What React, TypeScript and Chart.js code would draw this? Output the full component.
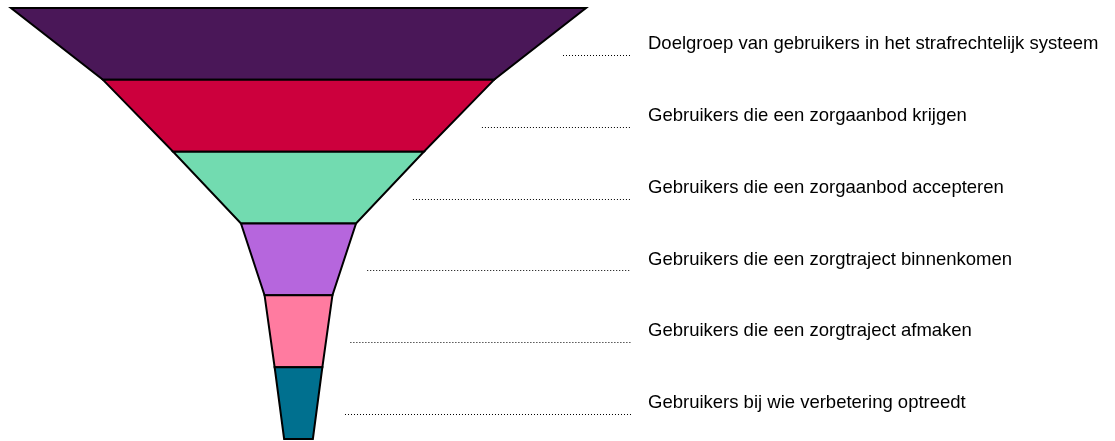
import React, { useEffect, useRef } from "react";
import { Chart, registerables } from "chart.js";

Chart.register(...registerables);

// ---- data ----
const stages: string[] = [
  "Doelgroep van gebruikers in het strafrechtelijk systeem",
  "Gebruikers die een zorgaanbod krijgen",
  "Gebruikers die een zorgaanbod accepteren",
  "Gebruikers die een zorgtraject binnenkomen",
  "Gebruikers die een zorgtraject afmaken",
  "Gebruikers bij wie verbetering optreedt",
];
// relative width at the top edge of each stage (first stage = 100)
const topWidths: number[] = [100, 68, 43.6, 20, 11.8, 8.3];
// relative width at the bottom edge of the last stage
const bottomWidth = 5;
const colors: string[] = ["#4A1758", "#CC003D", "#72DBB0", "#B666DD", "#FF7BA0", "#00708F"];

const funnelPlugin = {
  id: "funnelShapes",
  beforeDatasetDraw(chart: any, args: any) {
    const meta = chart.getDatasetMeta(args.index);
    const xs = chart.scales.x;
    const area = chart.chartArea;
    const ctx: CanvasRenderingContext2D = chart.ctx;
    const center = xs.getPixelForValue(0);
    ctx.save();
    meta.data.forEach((bar: any, i: number) => {
      const { y, height } = bar.getProps(["y", "height"], true);
      const top = y - height / 2;
      const bot = y + height / 2;
      const tw = topWidths[i];
      const bw = i + 1 < topWidths.length ? topWidths[i + 1] : bottomWidth;
      const tl = xs.getPixelForValue(-tw / 2);
      const tr = xs.getPixelForValue(tw / 2);
      const bl = xs.getPixelForValue(-bw / 2);
      const br = xs.getPixelForValue(bw / 2);
      ctx.beginPath();
      ctx.moveTo(tl, top);
      ctx.lineTo(tr, top);
      ctx.lineTo(br, bot);
      ctx.lineTo(bl, bot);
      ctx.closePath();
      ctx.fillStyle = colors[i];
      ctx.fill();
      ctx.lineWidth = 2;
      ctx.lineJoin = "miter";
      ctx.strokeStyle = "#000";
      ctx.stroke();

      // dotted leader line towards the label
      const start = Math.max((tr + br) / 2 + 23, center + 46.5);
      const end = area.right - 9;
      const ly = Math.round(y + 11) + 0.5;
      ctx.beginPath();
      ctx.setLineDash([1, 2]);
      ctx.lineWidth = 1;
      ctx.strokeStyle = "#000";
      ctx.moveTo(start, ly);
      ctx.lineTo(end, ly);
      ctx.stroke();
      ctx.setLineDash([]);
    });
    ctx.restore();
    return false;
  },
};

export default function App() {
  const ref = useRef<HTMLCanvasElement | null>(null);
  useEffect(() => {
    if (!ref.current) return;
    const chart = new Chart(ref.current, {
      type: "bar",
      data: {
        labels: stages,
        datasets: [
          {
            data: topWidths.map((w) => [-w / 2, w / 2]) as any,
            backgroundColor: colors,
            barPercentage: 1,
            categoryPercentage: 1,
          },
        ],
      },
      options: {
        indexAxis: "y",
        animation: false,
        responsive: true,
        maintainAspectRatio: false,
        layout: { padding: { top: 8, bottom: 2, left: 0, right: 0 } },
        plugins: { legend: { display: false }, tooltip: { enabled: false } },
        scales: {
          x: { type: "linear", display: false, min: -51.91, max: 59.39 },
          y: {
            type: "category",
            position: "right",
            grid: { display: false, drawTicks: false },
            border: { display: false },
            ticks: {
              padding: 8,
              color: "#000",
              font: { family: "'Liberation Sans', Arial, sans-serif", size: 18.5 },
            },
            afterFit: (s: any) => {
              s.width = 475;
              s.paddingTop = 0;
              s.paddingBottom = 0;
            },
          },
        },
      },
      plugins: [funnelPlugin],
    });
    return () => chart.destroy();
  }, []);
  return (
    <div style={{ position: "fixed", left: 0, top: 0, width: 1115, height: 441, background: "#fff" }}>
      <canvas ref={ref} />
    </div>
  );
}
